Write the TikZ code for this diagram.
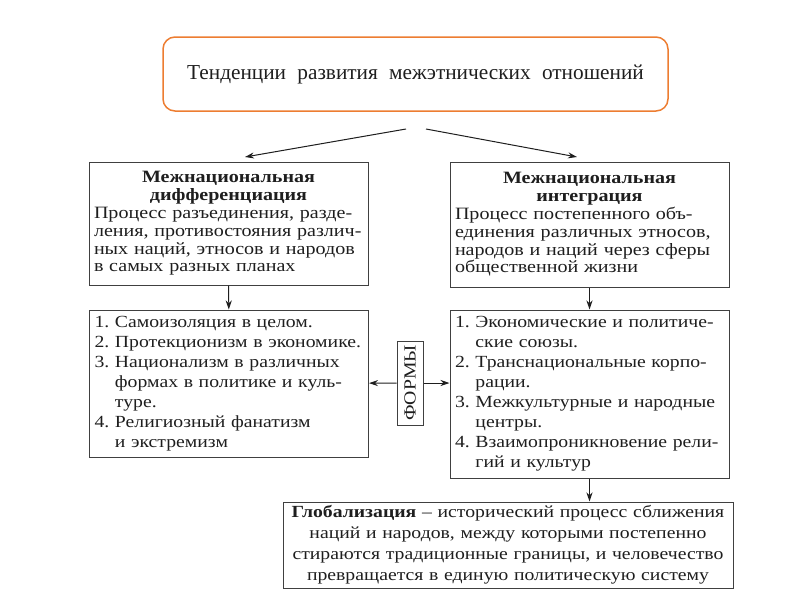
\documentclass[tikz,border=0pt]{standalone}
\usepackage{fontspec}
\setmainfont{Liberation Serif}
\newfontfamily\scanfont[FakeStretch=1.16]{Liberation Serif}
\usetikzlibrary{positioning, arrows.meta}
\definecolor{frameorange}{RGB}{237,125,49}
\definecolor{ink}{RGB}{30,30,30}
\tikzset {
    >={Stealth[length=9pt, width=6pt]},
    every node/.style={text=ink},
    textbox/.style={draw=ink!85, line width=1pt, inner xsep=5pt, inner ysep=4pt, align=left,
        text width=269pt, font=\scanfont\fontsize{17.3}{17.8}\selectfont},
    listbox/.style={textbox, font=\scanfont\fontsize{17}{20}\selectfont},
    arrow/.style={->, draw=ink, line width=1pt}
}
\newcommand{\boxhead}[2]{{\centering\bfseries #1\\ #2\par}}

\begin{document}
\begin{tikzpicture}[x=1pt, y=-1pt]
    \useasboundingbox (0,0) rectangle (800,600);
    \node[draw=frameorange, line width=1.5pt, rounded corners=12pt,
          minimum width=505pt, minimum height=74pt,
          font=\fontsize{21.3}{24}\selectfont] (trend) at (415.5,74)
        {Тенденции\hspace{6pt} развития\hspace{6pt} межэтнических\hspace{6pt} отношений};

    \node[textbox, minimum height=123pt] (diff) at (228.5,223.5)
        {\boxhead{Межнациональная}{дифференциация}
         Процесс разъединения, разде-\\ления, противостояния различ-\\ных наций, этносов и народов\\в самых разных планах};
    \node[textbox, minimum height=125pt] (integ) at (589.5,224.5)
        {\boxhead{Межнациональная}{интеграция}
         Процесс постепенного объ-\\единения различных этносов,\\народов и наций через сферы\\общественной жизни};

    \node[listbox, minimum height=147pt] (diffList) at (229,383.5)
        {1.\ Самоизоляция в целом.\\
         2.\ Протекционизм в экономике.\\
         3.\ Национализм в различных\\
         \phantom{3.\ }формах в политике и куль-\\
         \phantom{3.\ }туре.\\
         4.\ Религиозный фанатизм\\
         \phantom{4.\ }и экстремизм};
    \node[listbox, minimum height=168pt] (integList) at (589.5,394)
        {1.\ Экономические и политиче-\\
         \phantom{1.\ }ские союзы.\\
         2.\ Транснациональные корпо-\\
         \phantom{2.\ }рации.\\
         3.\ Межкультурные и народные\\
         \phantom{3.\ }центры.\\
         4.\ Взаимопроникновение рели-\\
         \phantom{4.\ }гий и культур};

    \node[draw=ink!85, line width=1pt, rotate=90, minimum width=84pt, minimum height=26pt,
          inner sep=1pt, font=\scanfont\fontsize{17}{17}\selectfont] (formy) at (410,383) {ФОРМЫ};

    \node[textbox, text width=444pt, minimum height=86pt, inner xsep=3pt, inner ysep=2pt, align=center,
          font=\scanfont\fontsize{17}{21}\selectfont] (glob) at (508,545)
        {\textbf{Глобализация} – исторический процесс сближения\\
         наций и народов, между которыми постепенно\\
         стираются традиционные границы, и человечество\\
         превращается в единую политическую систему};

    \coordinate (splitL) at (406,129);
    \coordinate (splitR) at (426,129);
    \coordinate (diffIn) at (245,157);
    \coordinate (integIn) at (577,157);

    \draw[arrow] (splitL) -- (diffIn);
    \draw[arrow] (splitR) -- (integIn);
    \draw[arrow] (diff) -- (diffList);
    \draw[arrow] (integ) -- (integList);
    \draw[arrow] (formy) -- (diffList);
    \draw[arrow] (formy.south) -- (formy.south -| integList.west);
    \draw[arrow] (integList.south) -- (integList.south |- glob.north);
\end{tikzpicture}
\end{document}
